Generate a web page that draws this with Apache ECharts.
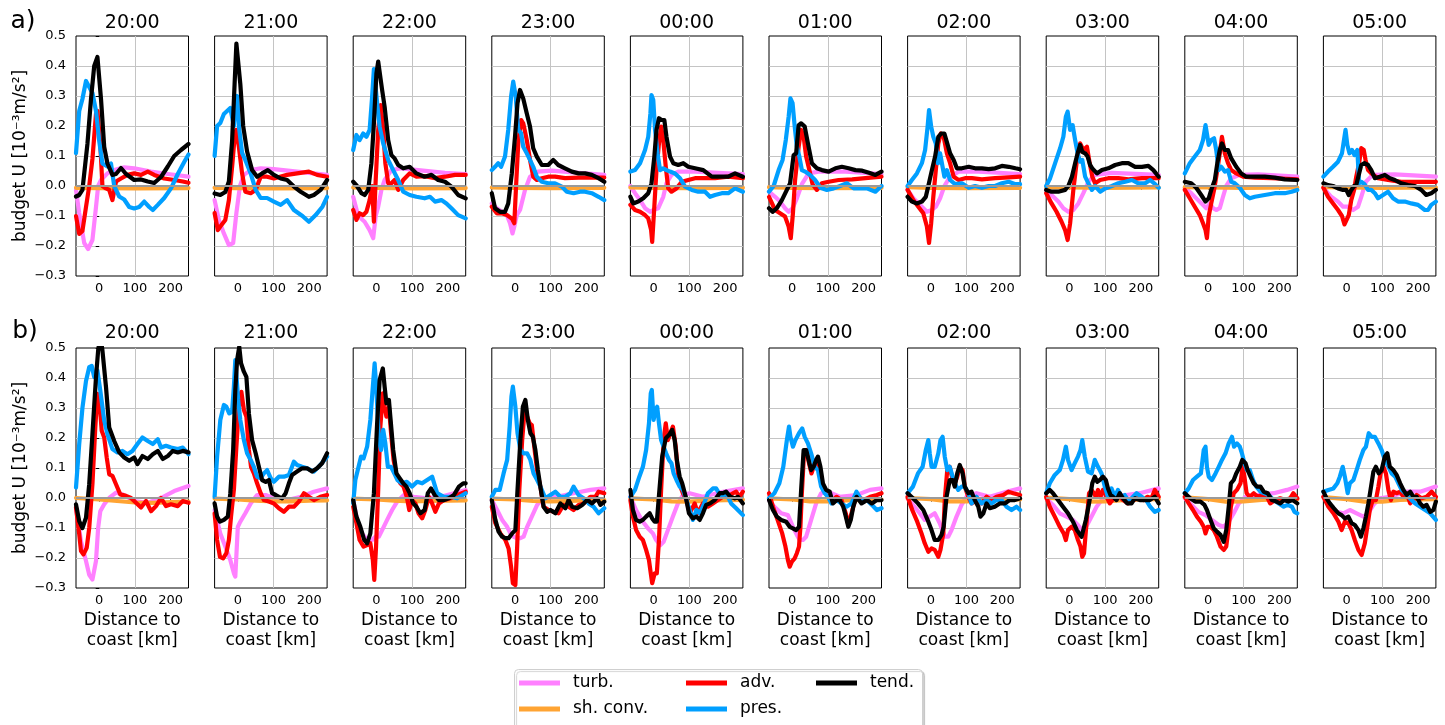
<!DOCTYPE html>
<html>
<head>
<meta charset="utf-8">
<script src="https://cdn.jsdelivr.net/npm/echarts@6/dist/echarts.min.js"></script>
<style>
html, body { margin: 0; padding: 0; background: #fff; }
#chart { width: 1445px; height: 725px; }
</style>
</head>
<body>
<div id="chart"></div>
<script>
// Hours shown in the panel titles, and the two rows of panels
const hours = ['20:00', '21:00', '22:00', '23:00', '00:00', '01:00', '02:00', '03:00', '04:00', '05:00'];
const rowLabels = ['a)', 'b)'];
const xTickValues = [0, 100, 200];
const seriesNames = ['turb.', 'sh. conv.', 'adv.', 'pres.', 'tend.'];
const seriesColors = ['#ff80ff', '#ffa433', '#ff0000', '#009fff', '#000000'];

// Budget terms of U [1e-3 m/s^2] against distance to coast [km]; one list of [km, value] per hour
// ---------- row a ----------
const turbA = [
  [[-65,-0.013],[-56,-0.09],[-42,-0.19],[-31,-0.21],[-19,-0.18],[-9,-0.07],[-3,0],[5,0.02],[23,0.042],[42,0.053],[70,0.062],[98,0.059],[145,0.048],[192,0.04],[250,0.031]],
  [[-65,-0.047],[-53,-0.113],[-39,-0.158],[-25,-0.197],[-13,-0.19],[-4,-0.09],[6,0],[17,0.037],[36,0.053],[64,0.059],[101,0.056],[166,0.048],[250,0.037]],
  [[-65,-0.036],[-51,-0.1],[-33,-0.119],[-19,-0.147],[-9,-0.174],[-2,-0.1],[5,-0.069],[14,-0.013],[23,0.02],[42,0.053],[70,0.059],[117,0.053],[192,0.044],[250,0.04]],
  [[-65,-0.058],[-51,-0.074],[-37,-0.086],[-23,-0.097],[-14,-0.124],[-7,-0.158],[-2,-0.135],[5,-0.097],[14,-0.08],[28,-0.013],[42,0.031],[65,0.048],[103,0.051],[178,0.044],[250,0.037]],
  [[-65,0],[-52,-0.024],[-38,-0.047],[-24,-0.074],[-10,-0.086],[-1,-0.08],[13,-0.074],[27,-0.036],[36,0.009],[50,0.037],[69,0.048],[116,0.048],[181,0.044],[250,0.04]],
  [[-65,-0.019],[-48,-0.036],[-34,-0.052],[-20,-0.074],[-10,-0.086],[1,-0.074],[13,-0.041],[27,0.006],[46,0.042],[74,0.048],[149,0.048],[250,0.04]],
  [[-65,-0.013],[-49,-0.041],[-30,-0.063],[-11,-0.086],[3,-0.08],[14,-0.069],[26,-0.041],[38,0],[54,0.031],[78,0.048],[134,0.048],[250,0.04]],
  [[-65,-0.013],[-50,-0.03],[-31,-0.052],[-17,-0.074],[-3,-0.086],[11,-0.08],[25,-0.058],[39,-0.024],[53,0.014],[72,0.037],[119,0.044],[250,0.037]],
  [[-65,-0.006],[-47,-0.024],[-28,-0.047],[-14,-0.063],[-5,-0.074],[5,-0.058],[14,-0.074],[23,-0.08],[33,-0.074],[42,-0.036],[51,0],[65,0.026],[89,0.037],[140,0.039],[250,0.031]],
  [[-65,-0.006],[-43,-0.036],[-24,-0.052],[-10,-0.069],[4,-0.069],[18,-0.08],[32,-0.069],[41,-0.036],[54,0.014],[73,0.037],[135,0.039],[250,0.031]]
];
const shconvA = [
  [[-65,-0.006],[0,-0.007],[100,-0.008],[250,-0.007]],
  [[-65,-0.006],[0,-0.007],[100,-0.008],[250,-0.007]],
  [[-65,-0.005],[0,-0.006],[100,-0.008],[250,-0.007]],
  [[-65,-0.005],[0,-0.006],[100,-0.007],[250,-0.006]],
  [[-65,-0.005],[0,-0.006],[100,-0.007],[250,-0.006]],
  [[-65,-0.004],[0,-0.006],[100,-0.007],[250,-0.006]],
  [[-65,-0.004],[0,-0.006],[100,-0.007],[250,-0.006]],
  [[-65,-0.004],[0,-0.005],[100,-0.006],[250,-0.005]],
  [[-65,-0.004],[0,-0.005],[100,-0.006],[250,-0.005]],
  [[-65,-0.004],[0,-0.005],[100,-0.006],[250,-0.005]]
];
const advA = [
  [[-65,-0.1],[-56,-0.16],[-47,-0.15],[-37,-0.07],[-28,0],[-19,0.09],[-9,0.24],[-5,0.25],[3,0.14],[9,0],[19,-0.008],[28,-0.013],[37,-0.047],[47,0.015],[61,0.025],[79,0.037],[98,0.042],[117,0.037],[136,0.048],[154,0.037],[182,0.025],[210,0.02],[234,0.015],[250,0.011]],
  [[-65,-0.09],[-56,-0.147],[-49,-0.135],[-35,-0.113],[-25,-0.047],[-16,0.064],[-8,0.175],[-4,0.187],[3,0.13],[12,0.042],[21,-0.019],[36,-0.024],[50,-0.013],[64,0.031],[82,0.031],[101,0.025],[138,0.037],[166,0.042],[199,0.048],[222,0.037],[250,0.031]],
  [[-65,-0.08],[-56,-0.113],[-47,-0.091],[-37,-0.097],[-28,-0.086],[-19,-0.047],[-12,0],[-7,-0.119],[-2,0.02],[5,0.187],[12,0.27],[19,0.187],[25,0.076],[33,0.009],[42,0.009],[51,0.02],[61,-0.013],[75,0.02],[93,0.042],[112,0.031],[135,0.033],[164,0.026],[192,0.031],[220,0.037],[250,0.037]],
  [[-65,-0.069],[-51,-0.091],[-37,-0.091],[-23,-0.097],[-9,-0.108],[-2,-0.124],[3,0],[9,0.142],[17,0.22],[23,0.209],[33,0.153],[42,0.087],[51,0.031],[61,0.02],[75,0.026],[93,0.031],[112,0.031],[140,0.026],[178,0.028],[215,0.028],[250,0.028]],
  [[-65,-0.063],[-52,-0.08],[-38,-0.086],[-24,-0.097],[-15,-0.108],[-7,-0.147],[-4,-0.186],[2,-0.069],[8,0.053],[15,0.142],[21,0.198],[27,0.153],[34,0.064],[41,-0.008],[50,-0.019],[64,-0.008],[79,0.014],[97,0.02],[116,0.026],[144,0.026],[172,0.026],[209,0.031],[250,0.026]],
  [[-65,-0.036],[-48,-0.08],[-34,-0.091],[-20,-0.102],[-10,-0.135],[-4,-0.174],[2,-0.091],[8,0.02],[18,0.131],[25,0.187],[32,0.164],[39,0.098],[48,0.053],[57,0.006],[69,-0.013],[83,0.009],[102,0.014],[130,0.02],[168,0.022],[205,0.026],[250,0.031]],
  [[-65,-0.013],[-49,-0.047],[-35,-0.069],[-21,-0.091],[-11,-0.135],[-5,-0.19],[1,-0.124],[7,-0.036],[14,0.053],[21,0.142],[28,0.175],[36,0.164],[45,0.109],[54,0.076],[64,0.031],[78,0.02],[96,0.026],[115,0.026],[143,0.022],[180,0.026],[218,0.029],[250,0.031]],
  [[-65,-0.024],[-50,-0.058],[-36,-0.086],[-22,-0.119],[-12,-0.147],[-5,-0.18],[2,-0.124],[11,-0.013],[21,0.087],[30,0.142],[39,0.12],[49,0.131],[56,0.081],[64,0.031],[72,0.009],[86,0.02],[109,0.026],[137,0.026],[165,0.022],[203,0.026],[250,0.026]],
  [[-65,-0.013],[-51,-0.041],[-37,-0.069],[-23,-0.097],[-14,-0.124],[-7,-0.147],[-3,-0.174],[2,-0.1],[9,-0.058],[17,-0.013],[26,0.053],[33,0.109],[39,0.164],[47,0.109],[56,0.076],[65,0.053],[79,0.042],[98,0.031],[131,0.028],[178,0.026],[250,0.022]],
  [[-65,-0.006],[-52,-0.036],[-38,-0.058],[-24,-0.08],[-13,-0.1],[-6,-0.128],[-1,-0.128],[6,-0.097],[13,-0.047],[21,-0.013],[27,0.031],[35,0.076],[41,0.126],[48,0.12],[53,0.087],[60,0.053],[69,0.042],[88,0.026],[116,0.02],[153,0.014],[200,0.014],[250,0.014]]
];
const presA = [
  [[-65,0.11],[-56,0.25],[-47,0.29],[-37,0.35],[-28,0.33],[-19,0.31],[-9,0.25],[0,0.15],[9,0.075],[23,0.065],[33,0.075],[42,0],[56,-0.035],[70,-0.045],[84,-0.07],[98,-0.075],[112,-0.07],[126,-0.052],[140,-0.07],[150,-0.08],[164,-0.063],[182,-0.04],[201,-0.008],[220,0.04],[238,0.08],[250,0.105]],
  [[-65,0.1],[-58,0.2],[-49,0.21],[-39,0.24],[-30,0.25],[-21,0.26],[-11,0.2],[-6,0.28],[-2,0.3],[3,0.2],[12,0.11],[21,0.087],[36,0.042],[50,-0.013],[64,-0.04],[82,-0.04],[101,-0.052],[120,-0.063],[138,-0.047],[157,-0.08],[181,-0.1],[199,-0.119],[218,-0.097],[237,-0.069],[250,-0.036]],
  [[-65,0.12],[-56,0.17],[-47,0.153],[-37,0.175],[-28,0.164],[-19,0.187],[-12,0.298],[-7,0.39],[-3,0.387],[3,0.264],[9,0.198],[19,0.142],[33,0.087],[47,0.053],[61,0.02],[75,-0.019],[93,-0.03],[112,-0.036],[135,-0.041],[150,-0.036],[164,-0.052],[182,-0.047],[196,-0.058],[210,-0.074],[229,-0.097],[250,-0.108]],
  [[-65,0.053],[-56,0.064],[-47,0.076],[-39,0.064],[-28,0.098],[-19,0.187],[-11,0.298],[-5,0.348],[2,0.298],[9,0.187],[17,0.176],[23,0.131],[33,0.109],[42,0.087],[51,0.064],[61,0.031],[75,0.014],[93,0.009],[112,0.009],[131,-0.002],[145,-0.019],[164,-0.024],[182,-0.019],[196,-0.019],[215,-0.024],[234,-0.036],[250,-0.047]],
  [[-65,0.048],[-52,0.053],[-38,0.076],[-24,0.12],[-15,0.164],[-9,0.242],[-6,0.303],[-1,0.287],[4,0.187],[11,0.109],[18,0.053],[27,0.059],[36,0.053],[46,0.048],[60,0.042],[74,0.026],[88,-0.002],[107,-0.013],[125,-0.019],[144,-0.019],[158,-0.036],[172,-0.03],[191,-0.024],[209,-0.024],[228,-0.008],[250,-0.019]],
  [[-65,-0.019],[-52,0],[-38,0.053],[-27,0.087],[-18,0.153],[-10,0.231],[-5,0.292],[1,0.276],[7,0.198],[13,0.131],[20,0.098],[27,0.053],[36,0.048],[50,0.037],[64,0.02],[79,-0.006],[97,-0.013],[116,-0.008],[134,0],[153,0.009],[172,-0.008],[191,-0.008],[209,-0.008],[233,-0.019],[250,0]],
  [[-65,0],[-53,0.02],[-39,0.042],[-25,0.076],[-16,0.12],[-9,0.198],[-5,0.253],[1,0.198],[7,0.164],[14,0.142],[20,0.076],[26,0.109],[31,0.076],[38,0.031],[45,0.053],[54,0.02],[68,0.006],[87,0.009],[106,-0.006],[124,0],[143,-0.006],[162,0],[180,0],[199,0.009],[218,0.014],[237,0.006],[250,0.006]],
  [[-65,0],[-54,0.026],[-40,0.076],[-26,0.126],[-17,0.164],[-10,0.231],[-5,0.248],[2,0.187],[9,0.203],[16,0.153],[23,0.109],[30,0.081],[36,0.087],[44,0.031],[53,0.009],[63,-0.013],[72,0],[86,-0.019],[100,-0.008],[119,0],[137,0.009],[156,0.014],[175,0.02],[193,0.009],[212,0.009],[226,0.02],[240,0.006],[250,-0.006]],
  [[-65,0.042],[-51,0.076],[-37,0.098],[-23,0.12],[-14,0.153],[-7,0.203],[-3,0.198],[2,0.137],[9,0.153],[17,0.159],[23,0.12],[30,0.053],[37,0.064],[47,0.048],[56,0.053],[65,0.014],[75,0.009],[89,-0.006],[103,-0.03],[117,-0.041],[131,-0.036],[159,-0.03],[187,-0.024],[215,-0.024],[234,-0.019],[250,-0.013]],
  [[-65,0.031],[-52,0.048],[-38,0.064],[-24,0.081],[-13,0.109],[-6,0.164],[-3,0.187],[2,0.137],[8,0.109],[15,0.12],[22,0.103],[30,0.12],[35,0.009],[41,0.014],[50,0.006],[60,-0.013],[69,-0.013],[79,-0.024],[88,-0.041],[102,-0.03],[116,-0.019],[130,-0.041],[144,-0.052],[163,-0.052],[181,-0.058],[200,-0.063],[219,-0.08],[228,-0.08],[237,-0.063],[250,-0.052]]
];
const tendA = [
  [[-65,-0.035],[-56,-0.03],[-47,-0.013],[-33,0.14],[-23,0.29],[-14,0.4],[-5,0.43],[5,0.29],[14,0.13],[23,0.075],[37,0.037],[47,0.04],[61,0.06],[75,0.04],[98,0.02],[117,0.022],[136,0.015],[154,0.01],[173,0.03],[192,0.065],[210,0.1],[229,0.12],[250,0.14]],
  [[-65,-0.025],[-49,-0.03],[-35,-0.02],[-25,0.015],[-16,0.15],[-9,0.34],[-4,0.475],[1,0.48],[7,0.34],[15,0.2],[26,0.115],[40,0.053],[54,0.031],[68,0.042],[84,0.053],[101,0.037],[120,0.025],[138,0.02],[157,-0.002],[176,-0.019],[199,-0.036],[213,-0.03],[232,-0.013],[250,0.02]],
  [[-65,0.014],[-56,0.003],[-42,-0.024],[-33,-0.03],[-23,-0.013],[-14,0.076],[-7,0.21],[0,0.375],[5,0.415],[9,0.41],[16,0.32],[23,0.264],[33,0.153],[42,0.103],[51,0.092],[61,0.07],[75,0.059],[93,0.064],[112,0.042],[135,0.031],[154,0.037],[173,0.02],[192,0.014],[210,-0.002],[229,-0.03],[250,-0.041]],
  [[-65,-0.024],[-56,-0.074],[-42,-0.086],[-28,-0.086],[-19,-0.058],[-9,0.042],[0,0.164],[7,0.276],[14,0.32],[23,0.292],[33,0.242],[42,0.198],[51,0.126],[61,0.098],[75,0.07],[93,0.07],[107,0.087],[121,0.07],[140,0.059],[159,0.048],[178,0.042],[196,0.042],[215,0.037],[234,0.026],[250,0.014]],
  [[-65,-0.036],[-57,-0.058],[-43,-0.052],[-29,-0.041],[-15,-0.024],[-6,0.009],[2,0.098],[8,0.187],[15,0.226],[22,0.22],[30,0.22],[36,0.164],[46,0.098],[55,0.076],[69,0.07],[83,0.076],[97,0.064],[116,0.059],[139,0.053],[163,0.031],[186,0.031],[209,0.031],[228,0.042],[250,0.031]],
  [[-65,-0.074],[-55,-0.086],[-43,-0.074],[-29,-0.047],[-15,-0.013],[-6,0.009],[4,0.103],[11,0.109],[18,0.203],[25,0.209],[35,0.198],[44,0.142],[55,0.076],[69,0.059],[83,0.053],[102,0.048],[121,0.059],[139,0.064],[158,0.059],[177,0.053],[196,0.051],[215,0.044],[233,0.037],[250,0.048]],
  [[-65,-0.036],[-53,-0.052],[-39,-0.058],[-25,-0.052],[-14,-0.036],[-7,0],[3,0.053],[12,0.098],[21,0.164],[29,0.175],[38,0.175],[46,0.142],[54,0.109],[64,0.087],[73,0.059],[87,0.059],[106,0.064],[124,0.059],[143,0.059],[162,0.056],[180,0.059],[199,0.067],[218,0.064],[237,0.059],[250,0.056]],
  [[-65,-0.013],[-50,-0.019],[-31,-0.019],[-12,-0.013],[-3,0],[7,0.031],[16,0.076],[23,0.109],[30,0.137],[36,0.114],[44,0.109],[51,0.098],[58,0.07],[64,0.059],[77,0.042],[91,0.053],[109,0.059],[128,0.07],[147,0.076],[165,0.076],[184,0.064],[203,0.064],[221,0.067],[235,0.053],[250,0.031]],
  [[-65,0.014],[-47,0.009],[-33,-0.006],[-19,-0.03],[-7,-0.052],[2,-0.041],[9,-0.013],[19,0.02],[26,0.076],[33,0.12],[39,0.142],[47,0.12],[56,0.12],[65,0.092],[79,0.064],[93,0.042],[107,0.031],[131,0.031],[159,0.031],[187,0.028],[215,0.022],[250,0.02]],
  [[-65,0.009],[-52,0.003],[-38,0],[-24,-0.008],[-10,-0.013],[-1,-0.013],[6,-0.03],[13,-0.013],[21,0],[27,0.003],[35,0.042],[41,0.07],[50,0.076],[60,0.07],[69,0.053],[79,0.026],[93,0.031],[107,0.037],[121,0.026],[135,0.02],[153,0.009],[172,0.003],[191,0],[209,-0.013],[223,-0.03],[237,-0.024],[250,-0.013]]
];

// ---------- row b ----------
const turbB = [
  [[-65,-0.032],[-51,-0.144],[-37,-0.21],[-28,-0.256],[-19,-0.272],[-9,-0.21],[-3,-0.1],[3,-0.044],[14,-0.021],[28,0],[47,0.018],[65,0.012],[98,-0.01],[136,-0.016],[173,0],[210,0.023],[250,0.04]],
  [[-65,-0.04],[-49,-0.118],[-35,-0.162],[-21,-0.207],[-11,-0.251],[-7,-0.262],[0,-0.096],[7,-0.079],[21,-0.051],[36,-0.018],[54,0.01],[78,0.01],[101,-0.001],[139,-0.007],[177,0.004],[213,0.021],[250,0.032]],
  [[-65,-0.007],[-54,-0.073],[-40,-0.118],[-26,-0.14],[-12,-0.14],[-3,-0.129],[7,-0.129],[16,-0.107],[30,-0.073],[44,-0.04],[58,-0.012],[77,0.01],[105,0.004],[142,-0.001],[180,0.004],[217,0.016],[250,0.027]],
  [[-65,-0.007],[-50,-0.04],[-36,-0.073],[-22,-0.096],[-13,-0.118],[-4,-0.129],[6,-0.134],[15,-0.134],[24,-0.129],[34,-0.096],[47,-0.062],[62,-0.023],[80,-0.001],[117,0.004],[164,0.016],[211,0.027],[250,0.032]],
  [[-65,0.004],[-49,-0.04],[-30,-0.079],[-16,-0.101],[-2,-0.118],[7,-0.14],[19,-0.157],[28,-0.146],[40,-0.107],[54,-0.062],[68,-0.018],[82,0.01],[101,0.016],[138,0.004],[194,0.021],[250,0.032]],
  [[-65,-0.007],[-50,-0.029],[-31,-0.051],[-12,-0.057],[2,-0.096],[13,-0.123],[21,-0.14],[30,-0.14],[39,-0.129],[53,-0.073],[67,-0.018],[81,0.016],[100,0.021],[133,0.004],[180,0.01],[218,0.027],[250,0.032]],
  [[-65,-0.001],[-50,-0.023],[-31,-0.051],[-17,-0.073],[-3,-0.062],[11,-0.051],[25,-0.084],[39,-0.129],[49,-0.129],[58,-0.107],[72,-0.062],[86,-0.023],[100,0.004],[128,0.016],[165,0.004],[212,0.021],[250,0.032]],
  [[-65,-0.001],[-46,-0.023],[-27,-0.051],[-8,-0.062],[10,-0.073],[24,-0.09],[36,-0.107],[47,-0.096],[62,-0.062],[76,-0.029],[94,-0.001],[122,0.004],[159,0.01],[197,0.016],[250,0.032]],
  [[-65,-0.001],[-46,-0.023],[-27,-0.046],[-7,-0.057],[11,-0.073],[30,-0.09],[44,-0.096],[58,-0.079],[72,-0.051],[86,-0.018],[105,0.004],[137,0.01],[184,0.016],[221,0.027],[250,0.038]],
  [[-65,0.004],[-47,-0.029],[-28,-0.046],[-9,-0.051],[9,-0.04],[28,-0.051],[47,-0.062],[61,-0.051],[75,-0.023],[93,-0.001],[121,0.004],[168,0.021],[206,0.021],[250,0.038]]
];
const shconvB = [
  [[-65,0],[0,-0.005],[50,-0.01],[100,-0.015],[150,-0.016],[200,-0.014],[250,-0.012]],
  [[-65,-0.002],[0,-0.005],[50,-0.009],[100,-0.011],[150,-0.011],[200,-0.009],[250,-0.008]],
  [[-65,-0.002],[0,-0.005],[50,-0.009],[100,-0.011],[150,-0.01],[200,-0.009],[250,-0.008]],
  [[-65,-0.002],[0,-0.005],[50,-0.01],[100,-0.011],[150,-0.01],[200,-0.008],[250,-0.007]],
  [[-65,-0.001],[0,-0.005],[50,-0.011],[100,-0.012],[150,-0.009],[200,-0.007],[250,-0.006]],
  [[-65,-0.001],[0,-0.005],[50,-0.011],[100,-0.011],[150,-0.008],[200,-0.006],[250,-0.005]],
  [[-65,0],[0,-0.004],[50,-0.011],[100,-0.011],[150,-0.007],[200,-0.005],[250,-0.005]],
  [[-65,0.001],[0,-0.004],[50,-0.012],[100,-0.011],[150,-0.007],[200,-0.005],[250,-0.004]],
  [[-65,0.002],[0,-0.004],[50,-0.012],[100,-0.011],[150,-0.006],[200,-0.005],[250,-0.004]],
  [[-65,0.003],[0,-0.004],[50,-0.012],[100,-0.012],[150,-0.006],[200,-0.005],[250,-0.004]]
];
const advB = [
  [[-65,-0.032],[-56,-0.12],[-51,-0.177],[-44,-0.188],[-35,-0.166],[-28,-0.1],[-19,0.046],[-11,0.235],[-5,0.347],[2,0.302],[7,0.224],[14,0.202],[21,0.135],[28,0.079],[37,0.074],[47,0.046],[59,0.012],[75,0.007],[89,0],[103,-0.016],[117,-0.032],[131,-0.01],[145,-0.044],[159,-0.027],[173,0],[187,-0.027],[201,-0.021],[220,-0.027],[234,-0.01],[250,-0.016]],
  [[-65,-0.051],[-58,-0.14],[-50,-0.196],[-41,-0.201],[-32,-0.184],[-25,-0.14],[-19,-0.062],[-11,0.027],[-4,0.171],[3,0.304],[10,0.354],[17,0.293],[24,0.271],[31,0.16],[37,0.104],[45,0.082],[54,0.049],[64,0.016],[73,-0.007],[87,-0.012],[101,-0.018],[115,-0.034],[129,-0.046],[143,-0.029],[157,-0.029],[171,-0.012],[185,0.016],[199,0.004],[213,-0.007],[231,0.004],[250,0.01]],
  [[-65,-0.029],[-56,-0.084],[-47,-0.14],[-36,-0.162],[-26,-0.157],[-17,-0.151],[-10,-0.207],[-6,-0.273],[-1,-0.162],[5,0.027],[11,0.238],[18,0.349],[23,0.304],[28,0.271],[35,0.304],[41,0.216],[48,0.127],[57,0.071],[67,0.049],[76,0.038],[85,0.004],[92,-0.04],[100,-0.007],[109,-0.018],[118,-0.051],[128,-0.068],[137,-0.04],[147,0.004],[156,-0.018],[165,-0.046],[175,-0.018],[189,-0.007],[208,-0.001],[226,0.01],[250,0.021]],
  [[-65,-0.029],[-55,-0.084],[-41,-0.118],[-27,-0.14],[-18,-0.168],[-11,-0.229],[-6,-0.284],[1,-0.29],[6,-0.162],[12,0.027],[20,0.193],[27,0.293],[34,0.271],[41,0.249],[47,0.243],[55,0.16],[63,0.082],[71,0.038],[80,-0.029],[94,-0.04],[108,-0.046],[122,-0.051],[136,-0.023],[150,-0.029],[164,-0.04],[178,-0.023],[192,-0.018],[211,0.004],[225,0.004],[234,0.021],[250,0.016]],
  [[-65,-0.007],[-58,-0.062],[-49,-0.107],[-39,-0.129],[-30,-0.14],[-21,-0.173],[-13,-0.207],[-8,-0.251],[-4,-0.284],[3,-0.251],[9,-0.251],[15,-0.14],[21,0.027],[28,0.193],[34,0.249],[40,0.193],[47,0.216],[54,0.238],[62,0.171],[68,0.082],[75,0.038],[82,0.016],[92,-0.007],[101,-0.051],[115,-0.018],[124,-0.051],[138,-0.018],[152,-0.029],[166,-0.018],[180,-0.007],[194,0.004],[213,0.01],[231,0.021],[240,0.004],[250,0.021]],
  [[-65,0.016],[-54,-0.029],[-41,-0.073],[-28,-0.118],[-19,-0.162],[-12,-0.207],[-7,-0.229],[-1,-0.212],[7,-0.201],[13,-0.184],[19,-0.162],[23,-0.096],[27,0.016],[33,0.149],[40,0.16],[47,0.116],[54,0.082],[60,0.104],[67,0.127],[75,0.104],[81,0.049],[91,0.021],[100,0.004],[110,-0.012],[124,0.004],[138,-0.007],[150,-0.051],[157,-0.09],[166,-0.051],[180,0.01],[199,-0.007],[218,0.004],[237,0.01],[250,0.016]],
  [[-65,0.004],[-52,-0.04],[-38,-0.079],[-26,-0.118],[-17,-0.151],[-7,-0.179],[2,-0.168],[11,-0.173],[21,-0.196],[27,-0.173],[35,-0.118],[39,-0.007],[46,0.093],[53,0.104],[61,0.06],[67,0.049],[74,0.071],[81,0.104],[89,0.093],[95,0.038],[105,0.004],[114,-0.018],[128,-0.007],[142,-0.018],[156,0.004],[170,-0.007],[184,0.004],[203,0.01],[217,0.021],[231,0.016],[250,0.01]],
  [[-65,0.004],[-55,-0.029],[-41,-0.062],[-27,-0.096],[-16,-0.118],[-10,-0.14],[-4,-0.107],[6,-0.096],[15,-0.107],[24,-0.14],[31,-0.162],[36,-0.196],[41,-0.184],[47,-0.096],[55,0.016],[62,0.027],[68,0.016],[74,0.004],[80,0.027],[87,0.004],[94,0.027],[104,0.004],[113,-0.018],[124,-0.001],[136,0.01],[150,-0.007],[164,-0.018],[179,-0.007],[192,-0.001],[207,-0.007],[218,0.004],[230,-0.001],[239,0.027],[250,0.004]],
  [[-65,0.004],[-54,-0.018],[-42,-0.04],[-31,-0.062],[-20,-0.079],[-12,-0.096],[-7,-0.118],[-1,-0.096],[7,-0.096],[16,-0.107],[25,-0.129],[35,-0.162],[44,-0.173],[51,-0.162],[58,-0.096],[64,-0.029],[72,0.016],[81,0.027],[91,0.049],[97,0.104],[102,0.071],[108,0.016],[117,0.004],[128,0.016],[139,0.004],[151,0.01],[165,0.004],[174,-0.018],[188,-0.007],[202,-0.001],[216,-0.007],[230,-0.001],[239,0.016],[250,-0.001]],
  [[-65,0.004],[-51,-0.029],[-37,-0.051],[-23,-0.079],[-14,-0.107],[-5,-0.079],[5,-0.084],[14,-0.107],[23,-0.14],[33,-0.173],[42,-0.19],[51,-0.151],[58,-0.096],[65,-0.04],[73,-0.007],[82,-0.007],[89,0.038],[95,0.082],[103,0.104],[110,0.082],[117,0.027],[124,-0.007],[131,0.021],[140,0.016],[150,0.021],[159,0.004],[168,0.016],[178,-0.018],[187,-0.007],[196,0.01],[210,-0.001],[224,0.004],[238,0.021],[250,0.004]]
];
const presB = [
  [[-65,0.035],[-56,0.18],[-47,0.3],[-37,0.39],[-28,0.436],[-21,0.44],[-14,0.403],[-5,0.425],[3,0.358],[14,0.258],[23,0.213],[37,0.163],[51,0.152],[65,0.157],[79,0.146],[93,0.157],[107,0.18],[121,0.202],[136,0.19],[150,0.18],[164,0.196],[173,0.168],[187,0.174],[201,0.168],[220,0.163],[234,0.168],[250,0.146]],
  [[-65,0.004],[-58,0.138],[-49,0.26],[-39,0.31],[-32,0.304],[-24,0.282],[-16,0.288],[-11,0.371],[-7,0.46],[-4,0.454],[1,0.327],[7,0.26],[17,0.193],[26,0.149],[36,0.127],[45,0.104],[54,0.071],[64,0.066],[73,0.082],[82,0.093],[92,0.066],[101,0.054],[115,0.071],[129,0.071],[143,0.077],[157,0.121],[166,0.11],[180,0.104],[194,0.099],[213,0.088],[231,0.11],[250,0.138]],
  [[-65,-0.018],[-59,0.06],[-50,0.104],[-43,0.138],[-36,0.132],[-26,0.171],[-17,0.26],[-10,0.371],[-5,0.449],[0,0.36],[7,0.193],[13,0.16],[19,0.227],[25,0.182],[32,0.104],[41,0.104],[50,0.082],[59,0.06],[71,0.049],[85,0.054],[100,0.038],[114,0.054],[128,0.049],[142,0.06],[156,0.071],[170,0.016],[189,0.004],[208,0.004],[226,-0.001],[250,0.016]],
  [[-65,0.004],[-55,0.027],[-43,0.027],[-32,0.082],[-22,0.127],[-15,0.238],[-10,0.338],[-6,0.371],[1,0.304],[7,0.216],[15,0.16],[24,0.149],[34,0.149],[43,0.127],[52,0.082],[62,0.06],[71,0.038],[85,-0.001],[99,0.01],[113,0.021],[127,0.004],[141,0.004],[155,0.016],[164,0.038],[178,0.01],[192,-0.001],[206,-0.018],[220,-0.029],[234,-0.051],[250,-0.034]],
  [[-65,0.004],[-52,0.027],[-40,0.071],[-30,0.104],[-21,0.16],[-13,0.249],[-8,0.349],[-5,0.36],[0,0.26],[5,0.293],[10,0.304],[15,0.249],[21,0.193],[28,0.171],[35,0.149],[43,0.127],[50,0.116],[56,0.082],[64,0.06],[73,0.038],[82,0.027],[92,-0.007],[101,-0.04],[110,-0.073],[120,-0.04],[129,-0.051],[138,-0.029],[152,0.016],[166,0.032],[175,0.032],[189,0.004],[203,0.016],[217,-0.018],[231,-0.034],[250,-0.057]],
  [[-65,-0.001],[-50,0.016],[-36,0.049],[-25,0.104],[-15,0.193],[-9,0.238],[-5,0.204],[2,0.171],[9,0.193],[19,0.216],[28,0.232],[35,0.204],[44,0.182],[53,0.149],[63,0.104],[72,0.093],[81,0.038],[91,0.016],[100,0.004],[110,-0.018],[124,-0.007],[138,-0.018],[152,-0.029],[166,-0.018],[180,0.021],[194,-0.007],[209,-0.007],[223,-0.023],[237,-0.04],[250,-0.034]],
  [[-65,0.016],[-50,0.038],[-36,0.082],[-23,0.104],[-14,0.16],[-7,0.193],[-3,0.149],[2,0.104],[11,0.104],[21,0.149],[27,0.193],[33,0.204],[39,0.138],[46,0.093],[53,0.104],[61,0.071],[67,0.049],[77,0.027],[86,0.038],[95,0.038],[105,0.016],[114,-0.018],[128,0.004],[142,-0.018],[156,-0.007],[170,-0.018],[184,-0.007],[198,-0.007],[212,-0.029],[226,-0.04],[240,-0.029],[250,-0.04]],
  [[-65,0.016],[-55,0.049],[-41,0.077],[-27,0.093],[-18,0.127],[-10,0.171],[-4,0.127],[6,0.093],[15,0.116],[24,0.138],[31,0.16],[36,0.193],[43,0.138],[52,0.088],[62,0.082],[71,0.127],[80,0.104],[90,0.082],[99,0.038],[108,0.004],[118,0.032],[127,0.004],[136,0.027],[146,0.004],[155,0.01],[164,-0.007],[174,-0.001],[188,0.016],[202,0.004],[215,-0.007],[226,-0.029],[239,-0.046],[250,-0.04]],
  [[-65,0.016],[-54,0.032],[-42,0.06],[-31,0.071],[-20,0.082],[-12,0.16],[-7,0.171],[-3,0.104],[2,0.071],[11,0.06],[21,0.082],[30,0.104],[39,0.127],[49,0.149],[58,0.182],[67,0.204],[73,0.171],[81,0.182],[89,0.171],[95,0.149],[102,0.116],[109,0.093],[117,0.093],[126,0.06],[135,0.038],[147,0.021],[158,0.016],[170,0.01],[184,-0.007],[198,-0.018],[212,-0.029],[223,-0.023],[235,-0.029],[242,-0.046],[250,-0.051]],
  [[-65,0.021],[-51,0.027],[-37,0.032],[-26,0.049],[-19,0.071],[-11,0.104],[-5,0.071],[3,0.016],[9,0.049],[19,0.06],[28,0.093],[37,0.127],[47,0.16],[54,0.171],[62,0.216],[70,0.204],[79,0.204],[89,0.182],[98,0.16],[107,0.127],[117,0.104],[126,0.082],[136,0.071],[145,0.049],[154,0.027],[164,0.016],[173,0.004],[182,-0.007],[192,-0.018],[206,-0.029],[220,-0.04],[234,-0.051],[250,-0.073]]
];
const tendB = [
  [[-65,-0.021],[-56,-0.077],[-47,-0.1],[-37,-0.066],[-28,0.046],[-19,0.213],[-9,0.403],[-3,0.492],[3,0.54],[9,0.492],[19,0.37],[28,0.235],[42,0.19],[56,0.152],[70,0.135],[84,0.124],[98,0.135],[107,0.113],[121,0.14],[136,0.13],[150,0.146],[164,0.157],[178,0.13],[192,0.14],[206,0.157],[220,0.152],[234,0.157],[250,0.152]],
  [[-65,-0.018],[-58,-0.062],[-50,-0.079],[-39,-0.073],[-28,-0.062],[-21,0.016],[-13,0.16],[-7,0.36],[-2,0.46],[4,0.504],[9,0.449],[17,0.421],[24,0.404],[31,0.282],[40,0.193],[50,0.149],[59,0.104],[68,0.06],[78,0.054],[87,0.06],[96,0.016],[106,0.01],[115,0.004],[124,-0.001],[134,0.016],[143,0.049],[152,0.077],[166,0.088],[180,0.099],[194,0.099],[208,0.088],[222,0.099],[236,0.116],[250,0.149]],
  [[-65,-0.007],[-56,-0.062],[-45,-0.096],[-34,-0.14],[-26,-0.151],[-17,-0.118],[-7,0.016],[2,0.249],[9,0.393],[18,0.432],[23,0.371],[28,0.316],[35,0.327],[39,0.271],[47,0.16],[56,0.082],[65,0.066],[75,0.049],[84,0.038],[93,0.016],[103,-0.018],[112,-0.029],[123,-0.051],[135,-0.04],[144,0.016],[153,0.032],[163,0.01],[175,-0.007],[189,-0.007],[203,-0.001],[217,0.01],[231,0.038],[243,0.049],[250,0.049]],
  [[-65,-0.007],[-55,-0.073],[-46,-0.112],[-36,-0.129],[-27,-0.134],[-18,-0.134],[-8,-0.118],[1,-0.107],[7,0.027],[15,0.193],[22,0.304],[29,0.327],[36,0.26],[43,0.216],[50,0.204],[57,0.16],[64,0.093],[71,0.038],[80,-0.029],[90,-0.046],[99,-0.04],[113,-0.051],[127,-0.018],[141,-0.034],[150,-0.007],[160,-0.029],[174,-0.034],[188,-0.023],[202,-0.007],[216,-0.018],[230,-0.001],[239,-0.023],[250,-0.012]],
  [[-65,0.027],[-58,-0.04],[-49,-0.073],[-39,-0.079],[-30,-0.073],[-21,-0.062],[-11,-0.051],[-4,-0.068],[3,-0.079],[9,-0.079],[17,0.038],[24,0.138],[34,0.199],[43,0.21],[52,0.227],[59,0.193],[65,0.127],[73,0.071],[80,0.049],[90,0.004],[99,-0.051],[110,-0.068],[120,-0.062],[129,-0.073],[138,-0.051],[147,-0.023],[158,-0.018],[171,-0.007],[185,0.016],[194,0.016],[203,0.021],[215,0.004],[227,-0.001],[236,0.004],[250,-0.018]],
  [[-65,-0.007],[-54,-0.04],[-43,-0.062],[-31,-0.073],[-17,-0.079],[-7,-0.096],[2,-0.101],[11,-0.107],[19,-0.096],[25,0.027],[32,0.16],[39,0.16],[46,0.127],[53,0.093],[60,0.104],[67,0.127],[72,0.138],[79,0.104],[86,0.049],[95,0.027],[105,0.021],[114,-0.018],[124,-0.007],[133,-0.007],[143,-0.029],[150,-0.062],[157,-0.096],[164,-0.073],[171,-0.029],[180,0.004],[194,-0.018],[209,-0.007],[223,-0.018],[237,-0.007],[250,-0.007]],
  [[-65,0.016],[-50,-0.001],[-36,-0.018],[-21,-0.04],[-7,-0.079],[2,-0.107],[11,-0.14],[21,-0.14],[30,-0.123],[36,-0.096],[44,0.004],[53,0.06],[61,0.06],[67,0.038],[74,0.082],[81,0.11],[89,0.082],[95,0.038],[105,0.016],[114,0.021],[123,-0.007],[133,-0.029],[139,-0.062],[147,-0.051],[156,-0.018],[165,-0.034],[179,-0.029],[193,-0.018],[207,-0.018],[221,-0.007],[235,-0.007],[250,-0.001]],
  [[-65,0.016],[-55,0.027],[-46,0.016],[-32,-0.007],[-18,-0.029],[-4,-0.051],[10,-0.079],[21,-0.107],[34,-0.129],[38,-0.123],[46,-0.073],[55,-0.018],[64,0.049],[71,0.071],[78,0.054],[85,0.06],[94,0.071],[102,0.06],[108,0.032],[115,0.01],[122,0.004],[132,-0.007],[141,0.016],[150,-0.001],[162,-0.018],[174,-0.018],[183,-0.001],[197,-0.007],[211,-0.007],[225,-0.007],[239,0.004],[250,-0.018]],
  [[-65,0.016],[-50,-0.001],[-36,-0.012],[-21,-0.012],[-10,-0.023],[-3,-0.04],[7,-0.073],[16,-0.101],[25,-0.112],[35,-0.123],[44,-0.146],[51,-0.107],[58,-0.029],[64,0.049],[72,0.06],[79,0.082],[89,0.104],[96,0.127],[105,0.116],[111,0.093],[119,0.071],[128,0.049],[137,0.038],[147,0.038],[156,0.021],[167,0.016],[179,-0.007],[191,-0.012],[202,-0.018],[213,-0.007],[225,-0.012],[237,-0.007],[250,-0.018]],
  [[-65,0.021],[-56,-0.001],[-47,-0.018],[-36,-0.034],[-23,-0.051],[-14,-0.057],[-5,-0.068],[5,-0.062],[14,-0.084],[23,-0.09],[33,-0.107],[40,-0.129],[47,-0.101],[54,-0.062],[61,-0.018],[67,0.027],[75,0.088],[82,0.104],[90,0.082],[98,0.093],[107,0.138],[114,0.149],[121,0.104],[131,0.093],[140,0.077],[150,0.049],[159,0.027],[168,0.01],[178,0.021],[187,0.004],[196,0.004],[206,-0.018],[215,-0.029],[224,-0.023],[234,-0.046],[243,-0.04],[250,-0.012]]
];

const rows = [
  [turbA, shconvA, advA, presA, tendA],
  [turbB, shconvB, advB, presB, tendB]
];

// ---------- layout ----------
const FONT = 'DejaVu Sans';
const panelLeft0 = 76, panelStep = 138.6, panelWidth = 112.5, panelHeight = 240;
const rowTop = [36, 348];
const titleY = [23.5, 333.5];
const rowLabelPos = [[23, 21], [25, 331]];
const LINE_W = 4.2;

const minusFmt = (v, digits) => (v < 0 ? '\u2212' : '') + Math.abs(v).toFixed(digits);

const grids = [], xAxes = [], yAxes = [], series = [], graphics = [];

rows.forEach((rowData, r) => {
  hours.forEach((hour, c) => {
    const idx = r * hours.length + c;
    const left = panelLeft0 + c * panelStep;
    grids.push({
      left: left, top: rowTop[r], width: panelWidth, height: panelHeight,
      show: true, borderColor: '#000', borderWidth: 1, backgroundColor: '#fff'
    });
    const isBottom = r === rows.length - 1;
    xAxes.push({
      gridIndex: idx, type: 'value', min: -65, max: 250,
      axisLine: { show: false },
      axisTick: { show: true, length: 3.5, lineStyle: { color: '#000' }, customValues: xTickValues },
      axisLabel: { show: true, customValues: xTickValues, margin: 6, color: '#000',
                   fontFamily: FONT, fontSize: 13 },
      splitLine: { show: true, showMinLine: false, showMaxLine: false,
                   lineStyle: { color: '#c4c4c4', width: 1 } },
      name: isBottom ? 'Distance to\ncoast [km]' : '',
      nameLocation: 'middle', nameGap: 23,
      nameTextStyle: { fontFamily: FONT, fontSize: 17, color: '#000', lineHeight: 20 }
    });
    const firstCol = c === 0;
    yAxes.push({
      gridIndex: idx, type: 'value', min: -0.3, max: 0.5, interval: 0.1,
      axisLine: { show: false },
      axisTick: { show: firstCol, length: 3.5, lineStyle: { color: '#000' } },
      axisLabel: { show: firstCol, margin: 10, color: '#000', fontFamily: FONT, fontSize: 13,
                   formatter: v => minusFmt(v, 1) },
      splitLine: { show: true, showMinLine: false, showMaxLine: false,
                   lineStyle: { color: '#c4c4c4', width: 1 } },
      name: firstCol ? 'budget U [10\u207B\u00B3m/s\u00B2]' : '',
      nameLocation: 'middle', nameRotate: 90, nameGap: 47,
      nameTextStyle: { fontFamily: FONT, fontSize: 17, color: '#000' }
    });
    rowData.forEach((termRows, k) => {
      const s = {
        name: seriesNames[k], type: 'line', xAxisIndex: idx, yAxisIndex: idx,
        data: termRows[c], showSymbol: false, symbol: 'none', clip: true,
        silent: true, animation: false,
        lineStyle: { color: seriesColors[k], width: LINE_W, join: 'round', cap: 'round' },
        itemStyle: { color: seriesColors[k] },
        emphasis: { disabled: true }
      };
      if (k === rowData.length - 1) {
        s.markLine = {
          silent: true, symbol: 'none', animation: false,
          label: { show: false },
          lineStyle: { color: '#9a9a9a', width: 2, type: 'solid' },
          data: [{ yAxis: 0 }]
        };
      }
      series.push(s);
    });
    graphics.push({
      type: 'text', x: left + panelWidth / 2, y: titleY[r],
      style: { text: hour, font: '19px "' + FONT + '"', fill: '#000',
               textAlign: 'center', textVerticalAlign: 'middle' }
    });
  });
  graphics.push({
    type: 'text', x: rowLabelPos[r][0], y: rowLabelPos[r][1],
    style: { text: rowLabels[r], font: '25px "' + FONT + '"', fill: '#000',
             textAlign: 'center', textVerticalAlign: 'middle' }
  });
});

// legend frame
graphics.push({
  type: 'rect', z: -1,
  shape: { x: 514.5, y: 669.5, width: 408, height: 80, r: 4 },
  style: { fill: '#fff', stroke: '#cfcfcf', lineWidth: 1,
           shadowColor: 'rgba(0,0,0,0.18)', shadowOffsetX: 2, shadowOffsetY: 2, shadowBlur: 1 }
});

// legend entries laid out in three columns: [series index, left, top]
const legendSlots = [[0, 519, 673], [1, 519, 699], [2, 686, 673], [3, 686, 699], [4, 816, 673]];
const legends = legendSlots.map(([k, left, top]) => ({
  left: left, top: top, orient: 'horizontal', padding: 0,
  itemWidth: 41, itemHeight: 5, icon: 'rect', selectedMode: false,
  data: [seriesNames[k]],
  textStyle: { fontFamily: FONT, fontSize: 17, color: '#000', lineHeight: 20, padding: [0, 0, 0, 8] }
}));

const chart = echarts.init(document.getElementById('chart'), null, { renderer: 'canvas' });
chart.setOption({
  backgroundColor: '#fff',
  animation: false,
  textStyle: { fontFamily: FONT },
  grid: grids,
  xAxis: xAxes,
  yAxis: yAxes,
  legend: legends,
  graphic: graphics,
  series: series
});
</script>
</body>
</html>
